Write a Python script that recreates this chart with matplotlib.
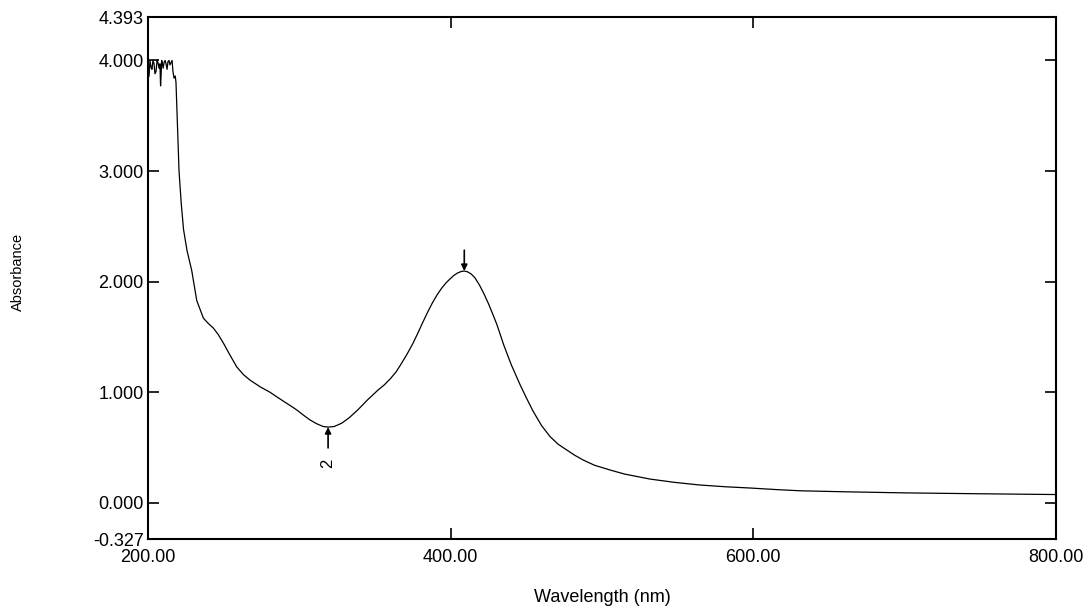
import matplotlib
matplotlib.use("Agg")
import matplotlib.pyplot as plt
import numpy as np

plt.rcParams['font.family'] = ['Liberation Sans', 'DejaVu Sans']

# Spectrum (wavelength nm, absorbance)
wavelength = [200.0, 200.7, 201.3, 202.0, 202.6, 203.3, 204.0, 204.6, 205.3, 206.0,
              206.6, 207.3, 207.9, 208.3, 208.6, 209.0, 209.3, 210.0, 210.6, 211.3,
              211.9, 212.6, 213.2, 213.9, 214.5, 215.2, 215.9, 216.5, 217.2, 218.0,
              218.5, 219.5, 220.5, 222.0, 223.5, 225.8, 228.9, 232.2, 236.6, 240.0,
              243.2, 246.5, 249.8, 254.0, 258.6, 263.0, 267.4, 274.0, 280.6, 285.5,
              290.5, 294.5, 298.3, 303.0, 307.0, 311.5, 315.8, 319.0, 323.0, 328.0,
              333.0, 338.6, 345.0, 352.0, 356.0, 360.0, 364.0, 367.0, 371.0, 375.0,
              378.5, 381.5, 385.0, 388.0, 391.0, 394.0, 397.0, 399.6, 402.0, 404.5,
              407.0, 409.0, 411.0, 413.5, 416.0, 419.0, 422.0, 425.0, 428.0, 430.6,
              435.0, 440.0, 445.8, 450.0, 454.4, 460.0, 465.6, 471.0, 476.7, 482.0,
              487.6, 495.0, 505.3, 515.0, 531.7, 548.0, 564.8, 582.0, 597.8, 615.0,
              630.8, 660.0, 700.0, 750.0, 800.0]
absorbance = [3.84, 3.86, 4.00, 3.94, 3.92, 4.00, 3.97, 3.88, 3.90, 4.00,
              3.98, 3.93, 3.97, 3.77, 3.85, 4.00, 3.99, 3.93, 3.98, 4.00,
              3.97, 3.92, 3.99, 4.00, 3.96, 3.98, 4.00, 3.90, 3.84, 3.86,
              3.80, 3.40, 3.00, 2.70, 2.47, 2.28, 2.10, 1.83, 1.67, 1.62,
              1.58, 1.52, 1.445, 1.34, 1.23, 1.16, 1.11, 1.05, 1.00, 0.955,
              0.91, 0.875, 0.84, 0.79, 0.75, 0.715, 0.69, 0.685, 0.69, 0.72,
              0.77, 0.84, 0.93, 1.02, 1.065, 1.12, 1.185, 1.25, 1.34, 1.44,
              1.54, 1.63, 1.73, 1.81, 1.88, 1.94, 1.99, 2.025, 2.055, 2.078,
              2.092, 2.096, 2.09, 2.07, 2.035, 1.97, 1.89, 1.80, 1.70, 1.61,
              1.43, 1.25, 1.07, 0.95, 0.83, 0.70, 0.60, 0.53, 0.478, 0.43,
              0.387, 0.34, 0.297, 0.26, 0.215, 0.185, 0.161, 0.145, 0.134, 0.12,
              0.109, 0.10, 0.09, 0.082, 0.075]

x_ticks = [200, 400, 600, 800]
x_ticklabels = ["200.00", "400.00", "600.00", "800.00"]
y_ticks = [-0.327, 0, 1, 2, 3, 4, 4.393]
y_ticklabels = ["-0.327", "0.000", "1.000", "2.000", "3.000", "4.000", "4.393"]

peak_wl = 409.0
valley_wl = 319.0

fig = plt.figure(figsize=(10.91, 6.09), dpi=100)
ax = fig.add_axes([148/1091, 70/609, (1056-148)/1091, (539-17)/609])

ax.plot(wavelength, absorbance, color='black', lw=0.9)

ax.set_xlim(200, 800)
ax.set_ylim(-0.327, 4.393)

ax.set_xticks(x_ticks)
ax.set_xticklabels(x_ticklabels)
ax.set_yticks(y_ticks)
ax.set_yticklabels(y_ticklabels)

ax.tick_params(axis='both', direction='in', length=8, width=1.2, labelsize=13,
               top=True, right=True, colors='black')
ax.tick_params(axis='x', pad=7)
ax.tick_params(axis='y', pad=3)
yt = ax.yaxis.get_major_ticks()
for i in (0, len(yt) - 1):
    yt[i].tick1line.set_visible(False)
    yt[i].tick2line.set_visible(False)
xt = ax.xaxis.get_major_ticks()
for i in (0, len(xt) - 1):
    xt[i].tick1line.set_visible(False)
    xt[i].tick2line.set_visible(False)

for s in ax.spines.values():
    s.set_linewidth(1.5)
    s.set_color('black')

ax.set_xlabel("Wavelength (nm)", fontsize=13)
ax.xaxis.label.set_va('center')
ax.xaxis.set_label_coords(0.5, (539 - 597) / 522)
ax.set_ylabel("Absorbance", fontsize=10.5)
ax.yaxis.label.set_va('center')
ax.yaxis.set_label_coords((18 - 148) / 908, (539 - 272) / 522)

wl = np.array(wavelength)
ab = np.array(absorbance)
peak_val = ab[np.argmin(np.abs(wl - peak_wl))]
valley_val = ab[np.argmin(np.abs(wl - valley_wl))]

arrow = dict(arrowstyle='-|>', color='black', lw=1.2, mutation_scale=9,
             shrinkA=0, shrinkB=0)
ax.annotate("", xy=(peak_wl, peak_val), xytext=(0, 15), textcoords='offset points',
            arrowprops=arrow)
ax.annotate("", xy=(valley_wl, valley_val), xytext=(0, -15), textcoords='offset points',
            arrowprops=arrow)
ax.annotate("2", xy=(valley_wl, valley_val), xytext=(0, -26), textcoords='offset points',
            rotation=90, ha='center', va='center', fontsize=12)

fig.savefig("out.png", dpi=100, facecolor='white')
